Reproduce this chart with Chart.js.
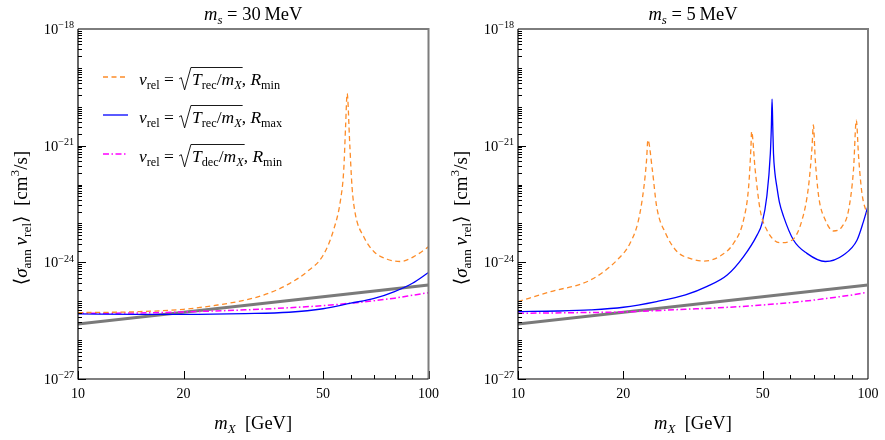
<!DOCTYPE html>
<html>
<head>
<meta charset="utf-8">
<script src="https://cdn.jsdelivr.net/npm/chart.js@4.4.1/dist/chart.umd.min.js"></script>
<style>
  body { margin: 0; background: #fff; width: 885px; height: 440px; overflow: hidden; }
  canvas { position: absolute; top: 0; }
</style>
</head>
<body>
<canvas id="c30" width="440" height="440" style="left:0"></canvas>
<canvas id="c5" width="445" height="440" style="left:440px"></canvas>
<script>
// m_s = 30 MeV panel
const mOrange30 = [10, 12.5, 15, 20, 25, 30, 35, 40, 45, 50, 53.6, 56.1, 57.3, 58.0, 58.6, 59.6, 60.5, 61.8, 65.3, 69.8, 76.2, 83.2, 90.8, 100];
const svOrange30 = [5.1e-26, 5.2e-26, 5.4e-26, 6.2e-26, 8e-26, 1.07e-25, 1.6e-25, 2.8e-25, 5.7e-25, 1.5e-24, 6.8e-24, 4e-23, 2.35e-22, 3.1e-21, 2.2e-20, 1.15e-21, 8.9e-23, 1.8e-23, 4.6e-24, 1.9e-24, 1.2e-24, 1.05e-24, 1.4e-24, 2.5e-24];
const mBlue30 = [10, 15, 20, 30, 40, 50, 60, 70, 80, 90, 100];
const svBlue30 = [4.7e-26, 4.6e-26, 4.6e-26, 4.8e-26, 5.2e-26, 6.4e-26, 8.9e-26, 1.18e-25, 1.77e-25, 2.9e-25, 5.5e-25];
const mMagenta30 = [10, 15, 20, 30, 40, 50, 60, 70, 80, 90, 100];
const svMagenta30 = [4.9e-26, 5.0e-26, 5.3e-26, 6.0e-26, 6.8e-26, 7.7e-26, 8.9e-26, 1.03e-25, 1.2e-25, 1.42e-25, 1.66e-25];

// m_s = 5 MeV panel
const mOrange5 = [10, 12.4, 16.1, 19.2, 20.9, 22.1, 22.9, 23.3, 23.5, 24.2, 24.9, 26.4, 28.5, 31.0, 33.9, 37.8, 41.3, 44.1, 45.6, 46.3, 46.5, 47.6, 49.2, 51.4, 56.1, 60.6, 64.8, 67.6, 69.2, 69.8, 70.7, 72.3, 75.5, 79.7, 84.3, 88.0, 90.9, 92.6, 94.0, 96.1, 99.4, 100];
const svOrange5 = [9.8e-26, 1.76e-25, 3.5e-25, 1.15e-24, 3.1e-24, 1.23e-23, 8.8e-23, 4.3e-22, 1.4e-21, 2.4e-22, 2.7e-23, 5.6e-24, 1.87e-24, 1.26e-24, 1.08e-24, 1.45e-24, 3.1e-24, 1.23e-23, 8.8e-23, 9.4e-22, 2.3e-21, 2.4e-22, 2.2e-23, 6.8e-24, 3.2e-24, 3.7e-24, 1.23e-23, 8.8e-23, 9.3e-22, 3.4e-21, 4.3e-22, 4.9e-23, 1.23e-23, 6.4e-24, 8.3e-24, 2.2e-23, 2.4e-22, 4.5e-21, 5.2e-22, 6e-23, 1.8e-23, 1.6e-23];
const mBlue5 = [10, 13, 16.1, 20, 24.9, 30.1, 34.7, 39.6, 44.1, 48.2, 49.8, 51.4, 52.6, 52.95, 53.2, 53.45, 53.7, 54.2, 54.9, 55.8, 57.4, 61.3, 66.9, 75.5, 85.1, 93.0, 97, 100];
const svBlue5 = [5.4e-26, 5.6e-26, 6e-26, 7e-26, 9.8e-26, 1.45e-25, 2.4e-25, 4.7e-25, 1.4e-24, 5e-24, 1e-23, 5e-23, 6.3e-22, 3e-21, 1.56e-20, 3e-21, 6.3e-22, 2e-22, 8.8e-23, 3.6e-23, 1.5e-23, 3.7e-24, 1.7e-24, 1.05e-24, 1.55e-24, 3.7e-24, 1.1e-23, 2.8e-23];
const mMagenta5 = [10, 15, 20, 30, 40, 50, 60, 70, 80, 90, 100];
const svMagenta5 = [4.9e-26, 5.1e-26, 5.3e-26, 6.2e-26, 7e-26, 8e-26, 9.2e-26, 1.07e-25, 1.25e-25, 1.45e-25, 1.7e-25];

// gray reference line, same in both panels
const mGray = [10, 100];
const svGray = [2.6e-26, 2.6e-25];

// axis ticks
const xMajor = [10, 20, 50, 100];
const xMinor = [30, 40, 60, 70, 80, 90];
const yMajorExp = [-27, -24, -21, -18];

const FONT = '"Liberation Serif", "DejaVu Serif", serif';

// rich text: parts are [text, flags]; i italic, b subscript, p superscript, o overlined, R radical
function drawRich(ctx, parts, x, y, size, align) {
  const runs = parts.map(([t, f]) => {
    const small = f.includes('b') || f.includes('p');
    const fs = small ? size * 0.7 : size;
    const font = (f.includes('i') ? 'italic ' : '') + fs + 'px ' + FONT;
    ctx.font = font;
    const w = f.includes('R') ? size * 0.78 : ctx.measureText(t).width;
    return { t, f, font, w };
  });
  const total = runs.reduce((s, r) => s + r.w, 0);
  let cx = align === 'center' ? x - total / 2 : align === 'right' ? x - total : x;
  ctx.textAlign = 'left';
  ctx.textBaseline = 'alphabetic';
  let radEnd = null, overEnd = null;
  runs.forEach(r => {
    if (r.f.includes('R')) {
      ctx.beginPath();
      ctx.lineWidth = 0.9;
      ctx.moveTo(cx + size * 0.05, y - size * 0.35);
      ctx.lineTo(cx + size * 0.17, y - size * 0.42);
      ctx.lineTo(cx + size * 0.36, y + size * 0.28);
      ctx.lineTo(cx + size * 0.72, y - size * 1.0);
      ctx.stroke();
      radEnd = cx + size * 0.72;
    } else {
      ctx.font = r.font;
      let dy = 0;
      if (r.f.includes('b')) dy = size * 0.22;
      if (r.f.includes('p')) dy = -size * 0.4;
      ctx.fillText(r.t, cx, y + dy);
    }
    cx += r.w;
    if (r.f.includes('o')) overEnd = cx + 1;
  });
  if (radEnd !== null && overEnd !== null) {
    ctx.beginPath();
    ctx.lineWidth = 0.9;
    ctx.moveTo(radEnd, y - size * 1.0);
    ctx.lineTo(overEnd, y - size * 1.0);
    ctx.stroke();
  }
}

const legendRows = [
  { color: '#fd8c28', dash: [5, 3.5], width: 1.3,
    parts: [['v', 'i'], ['rel', 'b'], [' = ', ''], ['', 'R'], ['T', 'io'], ['rec', 'bo'], ['/', 'o'], ['m', 'io'], ['X', 'ibo'], [', ', ''], ['R', 'i'], ['min', 'b']] },
  { color: '#0000ff', dash: [], width: 1.3,
    parts: [['v', 'i'], ['rel', 'b'], [' = ', ''], ['', 'R'], ['T', 'io'], ['rec', 'bo'], ['/', 'o'], ['m', 'io'], ['X', 'ibo'], [', ', ''], ['R', 'i'], ['max', 'b']] },
  { color: '#ff00ff', dash: [6, 2.5, 1.5, 2.5], width: 1.5,
    parts: [['v', 'i'], ['rel', 'b'], [' = ', ''], ['', 'R'], ['T', 'io'], ['dec', 'bo'], ['/', 'o'], ['m', 'io'], ['X', 'ibo'], [', ', ''], ['R', 'i'], ['min', 'b']] }
];

const framePlugin = {
  id: 'frame',
  afterDatasetsDraw(chart, args, opts) {
    const { ctx, chartArea: a, scales: { x, y } } = chart;
    ctx.save();
    ctx.fillStyle = '#000';
    ctx.strokeStyle = '#000';

    // y ticks (inward)
    ctx.lineWidth = 1;
    for (let e = -27; e <= -18; e++) {
      for (let k = 1; k <= 9; k++) {
        if (e === -18 && k > 1) break;
        const v = k * Math.pow(10, e);
        const py = Math.round(y.getPixelForValue(v)) + 0.5;
        const len = (k === 1 && yMajorExp.includes(e)) ? 8 : 4;
        ctx.beginPath();
        ctx.moveTo(a.left, py);
        ctx.lineTo(a.left + len, py);
        ctx.stroke();
      }
    }
    // x ticks
    xMajor.concat(xMinor).forEach(v => {
      const px = Math.round(x.getPixelForValue(v)) + 0.5;
      const len = xMajor.includes(v) ? 8 : 4;
      ctx.beginPath();
      ctx.moveTo(px, a.bottom);
      ctx.lineTo(px, a.bottom - len);
      ctx.stroke();
    });

    // frame: top/right gray, left/bottom black
    ctx.strokeStyle = '#7d7d7d';
    ctx.lineWidth = 2;
    ctx.beginPath();
    ctx.moveTo(a.left, a.top);
    ctx.lineTo(a.right, a.top);
    ctx.lineTo(a.right, a.bottom);
    ctx.stroke();
    ctx.strokeStyle = '#000';
    ctx.lineWidth = 1.2;
    ctx.beginPath();
    ctx.moveTo(a.left, a.top);
    ctx.lineTo(a.left, a.bottom);
    ctx.lineTo(a.right, a.bottom);
    ctx.stroke();

    // tick labels
    yMajorExp.forEach(e => {
      const py = y.getPixelForValue(Math.pow(10, e));
      drawRich(ctx, [['10', ''], ['\u2212' + (-e), 'p']], a.left - 4, py + 5, 14.5, 'right');
    });
    xMajor.forEach(v => {
      const px = x.getPixelForValue(v);
      drawRich(ctx, [[String(v), '']], px, a.bottom + 19, 14, 'center');
    });

    // titles
    const cx = (a.left + a.right) / 2;
    drawRich(ctx, opts.title, cx, 20, 18.5, 'center');
    drawRich(ctx, [['m', 'i'], ['X', 'ib'], ['  [GeV]', '']], cx, 429, 18.5, 'center');
    ctx.save();
    ctx.translate(27, (a.top + a.bottom) / 2 + 14);
    ctx.rotate(-Math.PI / 2);
    drawRich(ctx, [['\u27E8', ''], ['\u03C3', 'i'], ['ann', 'b'], ['\u2009v', 'i'], ['rel', 'b'], ['\u27E9  [cm', ''], ['3', 'p'], ['/s]', '']], 0, 0, 19, 'center');
    ctx.restore();

    // legend
    if (opts.legend) {
      legendRows.forEach((row, i) => {
        const base = [85, 123, 162][i];
        ctx.save();
        ctx.strokeStyle = row.color;
        ctx.lineWidth = row.width;
        ctx.setLineDash(row.dash);
        ctx.beginPath();
        ctx.moveTo(103, base - 8);
        ctx.lineTo(128, base - 8);
        ctx.stroke();
        ctx.restore();
        drawRich(ctx, row.parts, 139, base, 17.5, 'left');
      });
    }
    ctx.restore();
  }
};

function pts(xs, ys) {
  return xs.map((v, i) => ({ x: v, y: ys[i] }));
}

function makeSets(mo, so, mb, sb, mm, sm) {
  return [
    { data: pts(mo, so), borderColor: '#fd8c28', borderWidth: 1.3, borderDash: [5, 3.5] },
    { data: pts(mb, sb), borderColor: '#0000ff', borderWidth: 1.3 },
    { data: pts(mm, sm), borderColor: '#ff00ff', borderWidth: 1.5, borderDash: [6, 2.5, 1.5, 2.5] },
    { data: pts(mGray, svGray), borderColor: '#7a7a7a', borderWidth: 3 }
  ];
}

function makeChart(id, width, rightEdge, title, legend, datasets) {
  new Chart(document.getElementById(id), {
    type: 'line',
    data: { datasets },
    options: {
      responsive: false,
      animation: false,
      devicePixelRatio: 1,
      layout: { padding: { left: 78, right: width - rightEdge, top: 29, bottom: 440 - 379 } },
      elements: {
        point: { radius: 0 },
        line: { cubicInterpolationMode: 'monotone', fill: false }
      },
      plugins: {
        legend: { display: false },
        tooltip: { enabled: false },
        frame: { title, legend }
      },
      scales: {
        x: { type: 'logarithmic', min: 10, max: 100, display: false },
        y: { type: 'logarithmic', min: 1e-27, max: 1e-18, display: false }
      }
    },
    plugins: [framePlugin]
  });
}

makeChart('c30', 440, 428.5, [['m', 'i'], ['s', 'ib'], [' = 30\u2009MeV', '']], true,
  makeSets(mOrange30, svOrange30, mBlue30, svBlue30, mMagenta30, svMagenta30));
makeChart('c5', 445, 428, [['m', 'i'], ['s', 'ib'], [' = 5\u2009MeV', '']], false,
  makeSets(mOrange5, svOrange5, mBlue5, svBlue5, mMagenta5, svMagenta5));
</script>
</body>
</html>
